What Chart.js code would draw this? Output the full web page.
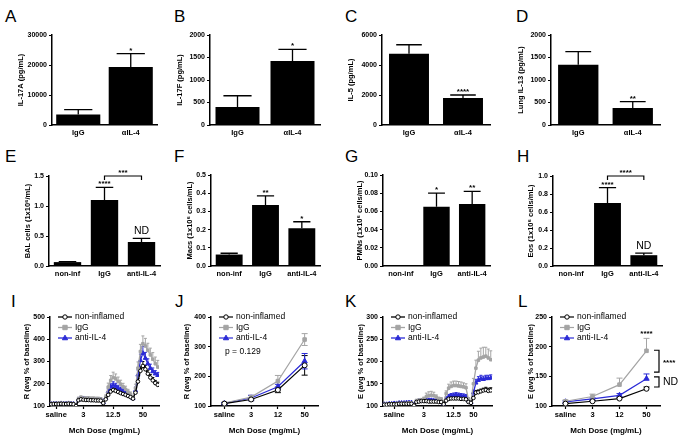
<!DOCTYPE html>
<html>
<head>
<meta charset="utf-8">
<title>IL-4 blockade panels</title>
<script src="https://cdn.jsdelivr.net/npm/chart.js"></script>
<style>
  body { margin: 0; background: #fff; }
  #fig { position: relative; width: 683px; height: 441px; overflow: hidden; font-family: "Liberation Sans", Arial, sans-serif; }
  #fig canvas { position: absolute; }
  .tag { position: absolute; font-size: 17px; line-height: 17px; color: #000; }
</style>
</head>
<body>
<div id="fig"></div>
<script>
// ---- data ----
const CATS_2 = ["IgG", "αIL-4"];
const CATS_3 = ["non-inf", "IgG", "anti-IL-4"];
const GROUPS = ["non-inflamed", "IgG", "anti-IL-4"];

const IL17A_MEAN = [3500, 19300];
const IL17A_SEM = [1600, 4500];
const IL17A_MARKS = ["", "*"];
const IL17F_MEAN = [400, 1420];
const IL17F_SEM = [250, 260];
const IL17F_MARKS = ["", "*"];
const IL5_MEAN = [4750, 1800];
const IL5_SEM = [600, 200];
const IL5_MARKS = ["", "****"];
const IL13_MEAN = [1340, 380];
const IL13_SEM = [290, 140];
const IL13_MARKS = ["", "**"];

const BAL_MEAN = [0.065, 1.10, 0.40];
const BAL_SEM = [0.008, 0.21, 0.06];
const BAL_MARKS = ["", "****", "ND"];
const MACS_MEAN = [0.063, 0.335, 0.207];
const MACS_SEM = [0.007, 0.05, 0.036];
const MACS_MARKS = ["", "**", "*"];
const PMN_MEAN = [0.0004, 0.065, 0.068];
const PMN_SEM = [0, 0.015, 0.014];
const PMN_MARKS = ["", "*", "**"];
const EOS_MEAN = [0, 0.70, 0.12];
const EOS_SEM = [0, 0.17, 0.022];
const EOS_MARKS = ["", "****", "ND"];

const A_TICKS = [0, 10000, 20000, 30000];
const B_TICKS = [0, 500, 1000, 1500, 2000];
const C_TICKS = [0, 2000, 4000, 6000];
const D_TICKS = [0, 500, 1000, 1500, 2000];
const E_TICKS = [0, 0.5, 1.0, 1.5];
const F_TICKS = [0, 0.1, 0.2, 0.3, 0.4, 0.5];
const G_TICKS = [0, 0.02, 0.04, 0.06, 0.08, 0.10];
const H_TICKS = [0, 0.2, 0.4, 0.6, 0.8, 1.0];

// continuous traces (I, K): one value per recorded sample
const I_NONINF = [108,109,109,109,110,109,109,110,109,108, 100,
  126,130,128,127,127,126,126,125,125,124, 113,
  130,150,165,172, 168,163,158,154,150,145,140, 133,
  160,210,258,280, 265,245,228,215,203,195];
const I_NONINF_SEM = [2,2,2,2,2,2,2,2,2,2, 2,
  4,5,5,4,4,4,4,4,4,4, 4,
  5,8,9,10, 10,9,9,8,8,7,7, 6,
  10,14,18,20, 18,16,14,13,12,12];
const I_IGG = [112,112,112,113,113,112,112,113,112,111, 103,
  132,137,135,134,134,133,133,132,132,131, 118,
  140,185,215,228, 222,210,198,186,175,163,153, 140,
  180,270,345,380, 370,350,330,310,290,275];
const I_IGG_SEM = [3,3,3,3,3,3,3,3,3,3, 3,
  8,9,8,8,8,8,8,8,8,7, 6,
  10,18,22,24, 22,20,18,16,14,12,10, 8,
  18,28,32,35, 34,32,30,30,30,30];
const I_ANTI = [110,111,111,111,112,111,111,112,111,110, 101,
  128,133,131,130,130,129,129,128,128,127, 116,
  135,165,186,194, 188,180,173,166,159,151,144, 134,
  170,240,305,338, 315,290,270,255,245,238];
const I_ANTI_SEM = [2,2,2,2,2,2,2,2,2,2, 2,
  8,9,8,8,8,7,7,7,7,7, 5,
  8,12,14,15, 14,13,12,11,10,9,8, 7,
  15,22,28,30, 26,22,18,16,14,13];
const I_TICK_POS = [2, 13, 25, 37];

const K_NONINF = [103,103,104,104,104,104,105,105,105,105,105,105, 101,
  109,110,111,111,111,110,110,110,110,109,109, 104,
  112,116,117,117,117,117,116,116,115, 109,107,
  118,130, 131,133,135,136,134,135];
const K_NONINF_SEM = [1,1,1,1,1,1,1,1,1,1,1,1, 1,
  2,2,2,2,2,2,2,2,2,2,2, 2,
  3,3,3,3,3,3,3,3,3, 2,2,
  3,5, 5,5,5,6,6,6];
const K_IGG = [104,104,105,105,105,106,106,106,106,106,107,107, 102,
  112,113,114,116,121,123,124,123,120,116,115, 108,
  128,140,144,146,146,145,144,143,141, 115,109,
  150,185, 203,208,210,212,208,204];
const K_IGG_SEM = [2,2,2,2,2,2,2,2,2,2,2,2, 2,
  3,3,3,4,8,9,9,8,5,4,4, 3,
  6,9,10,10,10,10,10,9,9, 4,3,
  12,18, 20,22,22,20,20,20];
const K_ANTI = [104,104,105,105,106,106,107,107,107,108,108,108, 102,
  110,111,112,112,113,113,113,112,112,111,111, 105,
  116,121,123,124,125,124,123,122,121, 112,108,
  130,152, 158,161,160,162,162,163];
const K_ANTI_SEM = [2,2,2,2,2,2,2,2,2,2,2,2, 2,
  3,3,3,3,3,3,3,3,3,3,3, 2,
  4,5,5,5,5,5,5,5,5, 3,3,
  6,8, 8,8,7,7,7,7];
const K_TICK_POS = [4, 16, 28, 36];
const TRACE_LABELS = ["saline", "3", "12.5", "50"];

// dose means (J, L)
const DOSE_POS = [0, 1, 2, 3];
const DOSE_LABELS = ["saline", "3", "12", "50"];
const J_NONINF = [108, 122, 154, 237];
const J_NONINF_SEM = [3, 4, 9, 33];
const J_IGG = [110, 130, 184, 324];
const J_IGG_SEM = [3, 6, 19, 20];
const J_ANTI = [109, 127, 165, 251];
const J_ANTI_SEM = [3, 9, 8, 26];
const L_NONINF = [104, 108, 112.5, 129];
const L_NONINF_SEM = [1, 1.5, 2, 3];
const L_IGG = [108, 116, 136, 193];
const L_IGG_SEM = [2, 4, 11, 21];
const L_ANTI = [107, 112, 118, 146];
const L_ANTI_SEM = [1.5, 2, 3, 8];

const I_TICKS = [100, 200, 300, 400, 500];
const J_TICKS = [100, 200, 300, 400];
const K_TICKS = [100, 150, 200, 250, 300];
const L_TICKS = [100, 150, 200, 250];

// ---- layout / style ----
const FONT = '"Liberation Sans", Arial, Helvetica, sans-serif';
Chart.defaults.font.family = FONT;
Chart.defaults.color = "#000";

const GEOM = {
  A: { x: 0, y: 0, w: 170, h: 143, yw: 52, pt: 35, pr: 13, xh: 18, tx: 21, bar: 0.84 },
  B: { x: 170, y: 0, w: 171, h: 143, yw: 40, pt: 35, pr: 21, xh: 18, tx: 10, bar: 0.8 },
  C: { x: 341, y: 0, w: 170, h: 143, yw: 41, pt: 35, pr: 21, xh: 18, tx: 10, bar: 0.74 },
  D: { x: 511, y: 0, w: 172, h: 143, yw: 40, pt: 35, pr: 23, xh: 18, tx: 10, bar: 0.74 },
  E: { x: 0, y: 143, w: 170, h: 142, yw: 49, pt: 33, pr: 10, xh: 19, tx: 28, bar: 0.74 },
  F: { x: 170, y: 143, w: 171, h: 142, yw: 41, pt: 32, pr: 21, xh: 19, tx: 20, bar: 0.74 },
  G: { x: 341, y: 143, w: 170, h: 142, yw: 42, pt: 32, pr: 21, xh: 19, tx: 19, bar: 0.74 },
  H: { x: 511, y: 143, w: 172, h: 142, yw: 42, pt: 33, pr: 21, xh: 19, tx: 20, bar: 0.74 },
  I: { x: 0, y: 285, w: 170, h: 156, yw: 50, pt: 32, pr: 11, xh: 35, tx: 27, lw: 1.3, r: 1.8, cap: 1.5 },
  J: { x: 170, y: 285, w: 171, h: 156, yw: 41, pt: 32, pr: 23, xh: 35, tx: 17, lw: 1.2, r: 2.5, cap: 3 },
  K: { x: 341, y: 285, w: 170, h: 156, yw: 42, pt: 32, pr: 19, xh: 35, tx: 20, lw: 1.3, r: 1.8, cap: 1.5 },
  L: { x: 511, y: 285, w: 172, h: 156, yw: 41, pt: 32, pr: 23, xh: 35, tx: 20, lw: 1.2, r: 2.5, cap: 3 }
};

const TAGS = [
  ["A", 5, 8], ["B", 174, 8], ["C", 345, 8], ["D", 516, 8],
  ["E", 5, 148], ["F", 174, 148], ["G", 345, 148], ["H", 517, 148],
  ["I", 11, 293], ["J", 175, 293], ["K", 345, 293], ["L", 518, 293]
];

const LOOKS = [
  { color: "#000000", fill: "#ffffff", style: "circle" },
  { color: "#a4a4a4", fill: "#a4a4a4", style: "rect" },
  { color: "#2a2ad6", fill: "#2a2ad6", style: "triangle" }
];

function addCanvas(p) {
  const c = document.createElement("canvas");
  c.width = p.w;
  c.height = p.h;
  c.style.left = p.x + "px";
  c.style.top = p.y + "px";
  document.getElementById("fig").appendChild(c);
  return c;
}

function yScale(ticks, dec, title, p) {
  return {
    min: ticks[0],
    max: ticks[ticks.length - 1],
    afterBuildTicks: s => { s.ticks = ticks.map(v => ({ value: v })); },
    afterFit: s => { s.width = p.yw; },
    grid: { drawOnChartArea: false, drawTicks: true, tickLength: 3, tickColor: "#000", tickWidth: 1.2 },
    border: { color: "#000", width: 1.5 },
    ticks: { font: { size: 7, weight: "bold" }, padding: 2, callback: v => Number(v).toFixed(dec) },
    title: { display: true, text: title, font: { size: 7.5, weight: "bold" }, padding: { top: p.tx - 4.5, bottom: 0 } }
  };
}

function barErrors(means, sems, marks) {
  return {
    id: "barErrors",
    afterDatasetsDraw(chart) {
      const ctx = chart.ctx;
      const y = chart.scales.y;
      const bars = chart.getDatasetMeta(0).data;
      ctx.save();
      ctx.strokeStyle = "#000";
      ctx.fillStyle = "#000";
      ctx.lineWidth = 1.3;
      ctx.textAlign = "center";
      bars.forEach((bar, i) => {
        const top = y.getPixelForValue(means[i] + sems[i]);
        if (sems[i] > 0) {
          const half = bar.width * 0.32;
          ctx.beginPath();
          ctx.moveTo(bar.x, bar.y);
          ctx.lineTo(bar.x, top);
          ctx.moveTo(bar.x - half, top);
          ctx.lineTo(bar.x + half, top);
          ctx.stroke();
        }
        const mark = marks[i];
        if (!mark) return;
        if (mark === "ND") {
          ctx.font = "10.5px " + FONT;
          ctx.fillText(mark, bar.x, top - 4);
        } else {
          ctx.font = "bold 8px " + FONT;
          ctx.fillText(mark, bar.x, top - 1);
        }
      });
      ctx.restore();
    }
  };
}

function bracket(br) {
  return {
    id: "bracket",
    afterDraw(chart) {
      if (!br) return;
      const ctx = chart.ctx;
      const bars = chart.getDatasetMeta(0).data;
      const yy = chart.scales.y.getPixelForValue(br.level);
      const x1 = bars[br.from].x;
      const x2 = bars[br.to].x;
      ctx.save();
      ctx.strokeStyle = "#000";
      ctx.lineWidth = 1.2;
      ctx.beginPath();
      ctx.moveTo(x1, yy + 4);
      ctx.lineTo(x1, yy);
      ctx.lineTo(x2, yy);
      ctx.lineTo(x2, yy + 4);
      ctx.stroke();
      ctx.fillStyle = "#000";
      ctx.textAlign = "center";
      ctx.font = "bold 8px " + FONT;
      ctx.fillText(br.text, (x1 + x2) / 2, yy - 1);
      ctx.restore();
    }
  };
}

function barPanel(p, cats, means, sems, ticks, dec, yTitle, marks, br) {
  new Chart(addCanvas(p), {
    type: "bar",
    data: {
      labels: cats,
      datasets: [{ data: means, backgroundColor: "#000", borderWidth: 0, barPercentage: p.bar, categoryPercentage: 1 }]
    },
    options: {
      responsive: false,
      animation: false,
      events: [],
      layout: { padding: { top: p.pt, right: p.pr, bottom: 0, left: 0 } },
      plugins: { legend: { display: false }, tooltip: { enabled: false } },
      scales: {
        x: {
          grid: { display: false, drawTicks: false },
          border: { color: "#000", width: 1.5 },
          ticks: { font: { size: 7.5, weight: "bold" }, padding: 3, maxRotation: 0, autoSkip: false },
          afterFit: s => { s.height = p.xh; }
        },
        y: yScale(ticks, dec, yTitle, p)
      }
    },
    plugins: [barErrors(means, sems, marks), bracket(br)]
  });
}

function drawMarker(ctx, look, x, y, r) {
  ctx.beginPath();
  if (look.style === "circle") ctx.arc(x, y, r, 0, Math.PI * 2);
  else if (look.style === "rect") ctx.rect(x - r, y - r, 2 * r, 2 * r);
  else {
    ctx.moveTo(x, y - r * 1.3);
    ctx.lineTo(x + r * 1.2, y + r * 0.8);
    ctx.lineTo(x - r * 1.2, y + r * 0.8);
    ctx.closePath();
  }
  ctx.fillStyle = look.fill;
  ctx.fill();
  ctx.strokeStyle = look.color;
  ctx.lineWidth = 1;
  ctx.stroke();
}

function lineErrors(series, both, cap) {
  return {
    id: "lineErrors",
    beforeDatasetsDraw(chart) {
      const ctx = chart.ctx;
      const y = chart.scales.y;
      ctx.save();
      series.forEach((s, k) => {
        ctx.strokeStyle = LOOKS[k].color;
        ctx.lineWidth = 1;
        chart.getDatasetMeta(k).data.forEach((pt, i) => {
          const hi = y.getPixelForValue(s.values[i] + s.sems[i]);
          const lo = both ? y.getPixelForValue(s.values[i] - s.sems[i]) : pt.y;
          ctx.beginPath();
          ctx.moveTo(pt.x, lo);
          ctx.lineTo(pt.x, hi);
          ctx.moveTo(pt.x - cap, hi);
          ctx.lineTo(pt.x + cap, hi);
          if (both) {
            ctx.moveTo(pt.x - cap, lo);
            ctx.lineTo(pt.x + cap, lo);
          }
          ctx.stroke();
        });
      });
      ctx.restore();
    }
  };
}

function legendBox(p) {
  return {
    id: "legendBox",
    afterDraw(chart) {
      const ctx = chart.ctx;
      const a = chart.chartArea;
      ctx.save();
      GROUPS.forEach((g, k) => {
        const yy = a.top + k * 10.5;
        ctx.strokeStyle = LOOKS[k].color;
        ctx.lineWidth = p.lw;
        ctx.beginPath();
        ctx.moveTo(a.left + 8, yy);
        ctx.lineTo(a.left + 22, yy);
        ctx.stroke();
        drawMarker(ctx, LOOKS[k], a.left + 15, yy, 2.2);
        ctx.fillStyle = "#000";
        ctx.font = "8.5px " + FONT;
        ctx.textBaseline = "middle";
        ctx.fillText(g, a.left + 25, yy);
      });
      ctx.restore();
    }
  };
}

function linePanel(p, xs, series, xTicks, xLabels, yTicks, yTitle, both, extra) {
  const datasets = series.map((s, k) => ({
    label: GROUPS[k],
    data: s.values.map((v, i) => ({ x: xs[i], y: v })),
    borderColor: LOOKS[k].color,
    borderWidth: p.lw,
    pointStyle: LOOKS[k].style,
    pointRadius: LOOKS[k].style === "triangle" ? p.r + 0.6 : p.r,
    pointBackgroundColor: LOOKS[k].fill,
    pointBorderColor: LOOKS[k].color,
    pointBorderWidth: 1,
    tension: 0
  }));
  new Chart(addCanvas(p), {
    type: "line",
    data: { datasets },
    options: {
      responsive: false,
      animation: false,
      events: [],
      layout: { padding: { top: p.pt, right: p.pr, bottom: 0, left: 0 } },
      plugins: { legend: { display: false }, tooltip: { enabled: false } },
      scales: {
        x: {
          type: "linear",
          min: xs[0] - 0.5,
          max: xs[xs.length - 1] + 0.5,
          afterBuildTicks: s => { s.ticks = xTicks.map(v => ({ value: v })); },
          afterFit: s => { s.height = p.xh; },
          grid: { drawOnChartArea: false, drawTicks: true, tickLength: 3, tickColor: "#000", tickWidth: 1.2 },
          border: { color: "#000", width: 1.5 },
          ticks: { font: { size: 7.5, weight: "bold" }, padding: 1, maxRotation: 0, autoSkip: false, callback: (v, i) => xLabels[i] },
          title: { display: true, text: "Mch Dose (mg/mL)", font: { size: 8, weight: "bold" }, padding: { top: 0, bottom: 5 } }
        },
        y: yScale(yTicks, 0, yTitle, p)
      }
    },
    plugins: [lineErrors(series, both, p.cap), legendBox(p), extra || { id: "none" }]
  });
}

function pValue(text) {
  return {
    id: "pValue",
    afterDraw(chart) {
      const ctx = chart.ctx;
      const a = chart.chartArea;
      ctx.save();
      ctx.fillStyle = "#000";
      ctx.font = "8.5px " + FONT;
      ctx.textBaseline = "middle";
      ctx.fillText(text, a.left + 14, a.top + 35);
      ctx.restore();
    }
  };
}

// L: stars over IgG at the top dose, side brackets at the right
const L_TOP_MARK = { series: 1, index: 3, text: "****" };
const L_SIDE = [
  { hi: 194, lo: 157, text: "****" },
  { hi: 149, lo: 132, text: "ND" }
];

function lNotes(series) {
  return {
    id: "lNotes",
    afterDraw(chart) {
      const ctx = chart.ctx;
      const a = chart.chartArea;
      const y = chart.scales.y;
      ctx.save();
      ctx.fillStyle = "#000";
      ctx.strokeStyle = "#000";
      ctx.lineWidth = 1.2;
      const s = series[L_TOP_MARK.series];
      const pt = chart.getDatasetMeta(L_TOP_MARK.series).data[L_TOP_MARK.index];
      const top = y.getPixelForValue(s.values[L_TOP_MARK.index] + s.sems[L_TOP_MARK.index]);
      ctx.textAlign = "center";
      ctx.font = "bold 8px " + FONT;
      ctx.fillText(L_TOP_MARK.text, pt.x, top - 2);
      ctx.textAlign = "left";
      ctx.textBaseline = "middle";
      L_SIDE.forEach(b => {
        const y1 = y.getPixelForValue(b.hi);
        const y2 = y.getPixelForValue(b.lo);
        const xr = a.right - 1;
        ctx.beginPath();
        ctx.moveTo(xr - 5, y1);
        ctx.lineTo(xr, y1);
        ctx.lineTo(xr, y2);
        ctx.lineTo(xr - 5, y2);
        ctx.stroke();
        ctx.font = b.text === "ND" ? "10.5px " + FONT : "bold 8px " + FONT;
        ctx.fillText(b.text, xr + 4, (y1 + y2) / 2 + (b.text === "ND" ? 0 : 2));
      });
      ctx.restore();
    }
  };
}

function drawTags() {
  const fig = document.getElementById("fig");
  TAGS.forEach(([t, x, y]) => {
    const d = document.createElement("div");
    d.className = "tag";
    d.textContent = t;
    d.style.left = x + "px";
    d.style.top = y + "px";
    fig.appendChild(d);
  });
}

document.addEventListener("DOMContentLoaded", () => {
  drawTags();

  barPanel(GEOM.A, CATS_2, IL17A_MEAN, IL17A_SEM, A_TICKS, 0, "IL-17A (pg/mL)", IL17A_MARKS);
  barPanel(GEOM.B, CATS_2, IL17F_MEAN, IL17F_SEM, B_TICKS, 0, "IL-17F (pg/mL)", IL17F_MARKS);
  barPanel(GEOM.C, CATS_2, IL5_MEAN, IL5_SEM, C_TICKS, 0, "IL-5 (pg/mL)", IL5_MARKS);
  barPanel(GEOM.D, CATS_2, IL13_MEAN, IL13_SEM, D_TICKS, 0, "Lung IL-13 (pg/mL)", IL13_MARKS);

  barPanel(GEOM.E, CATS_3, BAL_MEAN, BAL_SEM, E_TICKS, 1, "BAL cells (1x10⁶/mL)", BAL_MARKS,
    { from: 1, to: 2, level: 1.5, text: "***" });
  barPanel(GEOM.F, CATS_3, MACS_MEAN, MACS_SEM, F_TICKS, 1, "Macs (1x10⁶ cells/mL)", MACS_MARKS);
  barPanel(GEOM.G, CATS_3, PMN_MEAN, PMN_SEM, G_TICKS, 2, "PMNs (1x10⁶ cells/mL)", PMN_MARKS);
  barPanel(GEOM.H, CATS_3, EOS_MEAN, EOS_SEM, H_TICKS, 1, "Eos (1x10⁶ cells/mL)", EOS_MARKS,
    { from: 1, to: 2, level: 1.0, text: "****" });

  const iX = I_NONINF.map((v, i) => i);
  const kX = K_NONINF.map((v, i) => i);

  linePanel(GEOM.I, iX, [
    { values: I_NONINF, sems: I_NONINF_SEM },
    { values: I_IGG, sems: I_IGG_SEM },
    { values: I_ANTI, sems: I_ANTI_SEM }
  ], I_TICK_POS, TRACE_LABELS, I_TICKS, "R (avg % of baseline)", false);

  linePanel(GEOM.J, DOSE_POS, [
    { values: J_NONINF, sems: J_NONINF_SEM },
    { values: J_IGG, sems: J_IGG_SEM },
    { values: J_ANTI, sems: J_ANTI_SEM }
  ], DOSE_POS, DOSE_LABELS, J_TICKS, "R (avg % of baseline)", true, pValue("p = 0.129"));

  linePanel(GEOM.K, kX, [
    { values: K_NONINF, sems: K_NONINF_SEM },
    { values: K_IGG, sems: K_IGG_SEM },
    { values: K_ANTI, sems: K_ANTI_SEM }
  ], K_TICK_POS, TRACE_LABELS, K_TICKS, "E (avg % of baseline)", false);

  const lSeries = [
    { values: L_NONINF, sems: L_NONINF_SEM },
    { values: L_IGG, sems: L_IGG_SEM },
    { values: L_ANTI, sems: L_ANTI_SEM }
  ];
  linePanel(GEOM.L, DOSE_POS, lSeries, DOSE_POS, DOSE_LABELS, L_TICKS, "E (avg % of baseline)", false, lNotes(lSeries));
});
</script>
</body>
</html>
